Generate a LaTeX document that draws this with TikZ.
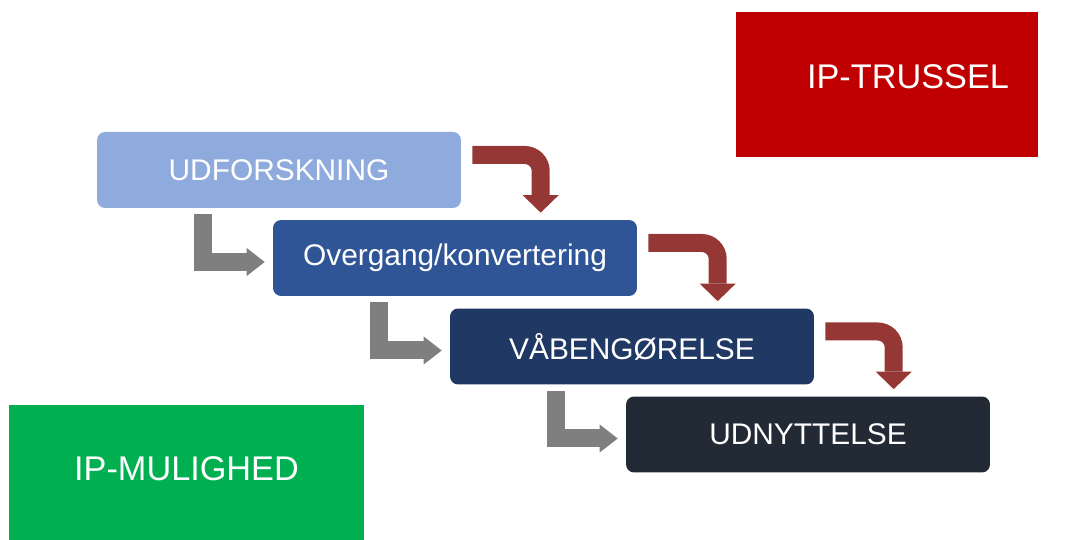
\documentclass[tikz,border=0pt]{standalone}
\usepackage{fontspec}
\setmainfont{Liberation Sans}
\usetikzlibrary{arrows.meta,calc}

\definecolor{lightblue}{HTML}{8FAADC}
\definecolor{midblue}{HTML}{2F5597}
\definecolor{darkblue}{HTML}{203864}
\definecolor{darkslate}{HTML}{222A35}
\definecolor{trusselred}{HTML}{C00000}
\definecolor{mulgreen}{HTML}{00B050}
\definecolor{arrowred}{HTML}{953735}
\definecolor{arrowgray}{HTML}{7F7F7F}

\begin{document}
\begin{tikzpicture}[x=0.02cm,y=0.02cm,
  stepbox/.style={rounded corners=0.16cm, minimum width=7.28cm, minimum height=1.52cm,
    text=white, font=\fontsize{17}{20}\selectfont, inner sep=0pt},
  cornerbox/.style={inner sep=0pt},
  cornertext/.style={text=white, font=\fontsize{19.5}{23}\selectfont, inner sep=0pt},
  redarrow/.style={draw=arrowred, line width=0.36cm, rounded corners=0.32cm,
    -{Triangle[width=0.72cm,length=0.35cm,line width=0pt]}},
  grayarrow/.style={draw=arrowgray, line width=0.36cm,
    -{Triangle[width=0.56cm,length=0.36cm,line width=0pt]}}]

\useasboundingbox (0,0) rectangle (1067,540);

%CORNER BOXES
\node[cornerbox, fill=trusselred, minimum width=6.04cm, minimum height=2.9cm,
  label={[cornertext, xshift=0.42cm, yshift=0.15cm]center:IP-TRUSSEL}] (trussel) at (887,455.5) {};
\node[cornerbox, fill=mulgreen, minimum width=7.1cm, minimum height=2.7cm,
  label={[cornertext, yshift=0.07cm]center:IP-MULIGHED}] (mulighed) at (186.5,67.5) {};

%STEPS
\node[stepbox, fill=lightblue] (udf) at (279,370) {UDFORSKNING};
\node[stepbox, fill=midblue] (overg) at (455,282) {Overgang/konvertering};
\node[stepbox, fill=darkblue] (vaab) at (632,193.5) {VÅBENGØRELSE};
\node[stepbox, fill=darkslate] (udn) at (808,105.5) {UDNYTTELSE};

%red arrows
\draw[redarrow] ($(udf.east)+(11,15)$) -| ($(overg.north west)+(268,7)$);
\draw[redarrow] ($(overg.east)+(11,15)$) -| ($(vaab.north west)+(268,7)$);
\draw[redarrow] ($(vaab.east)+(11,15)$) -| ($(udn.north west)+(268,7)$);

%gray arrows
\draw[grayarrow] ($(udf.south west)+(106,-6)$) |- ($(overg.west)+(-8,-4)$);
\draw[grayarrow] ($(overg.south west)+(106,-6)$) |- ($(vaab.west)+(-8,-4)$);
\draw[grayarrow] ($(vaab.south west)+(106,-6)$) |- ($(udn.west)+(-8,-4)$);
\end{tikzpicture}
\end{document}
